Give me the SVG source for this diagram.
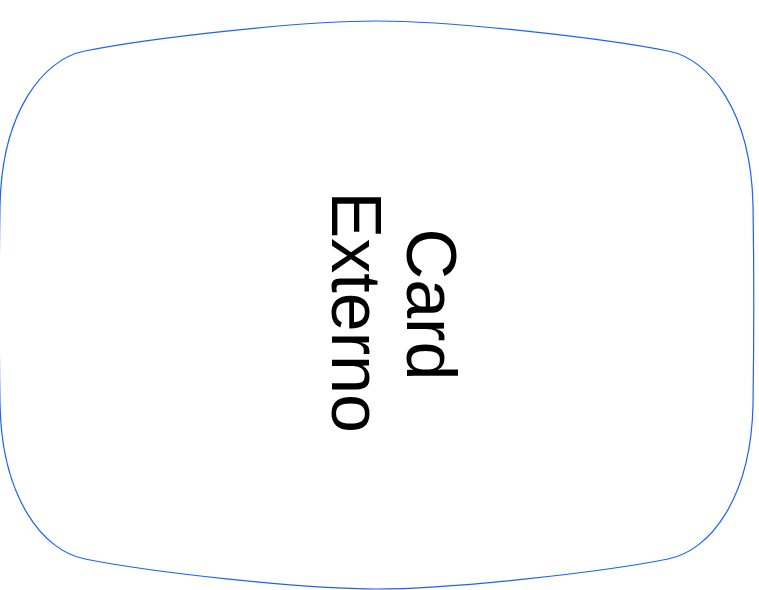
<svg xmlns="http://www.w3.org/2000/svg" width="759" height="590" viewBox="0 0 759 590">
  <style>
    .shape { fill: #ffffff; stroke: #2060ff; stroke-width: 1.2; }
    .label { font-family: "Liberation Sans", Arial, sans-serif; font-size: 70px; fill: #000000; }
  </style>
  <rect width="759" height="590" fill="#ffffff"/>
  <g id="connectors"></g>
  <g id="card-externo">
    <path class="shape" d="M 376.5,21 C 300,21 150,38 85,51 C 43,59 2,112 0,205 C -1,270 -1,340 0,405 C 2,498 43,551 85,559 C 150,572 300,589 376.5,589 C 453,589 603,572 668,559 C 710,551 751,498 753,405 C 754,340 754,270 753,205 C 751,112 710,59 668,51 C 603,38 453,21 376.5,21 Z"/>
    <text class="label" transform="rotate(90)" x="228.6" y="-407">Card</text>
    <text class="label" transform="rotate(90)" x="191.6" y="-332">Externo</text>
  </g>
</svg>
